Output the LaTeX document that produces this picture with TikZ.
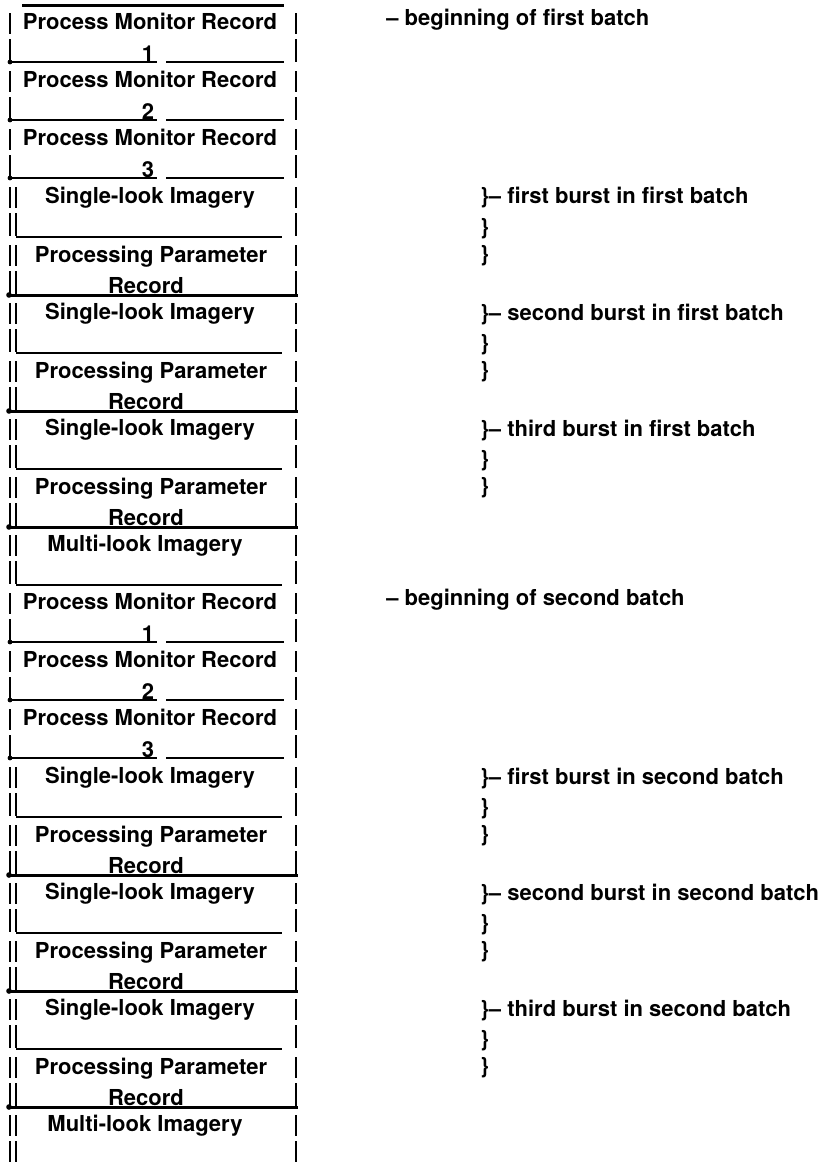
\documentclass[tikz,border=0pt]{standalone}
\usepackage{fontspec}
\setmainfont{TeX Gyre Heros}

\begin{document}
\begin{tikzpicture}[
    x=0.5pt, y=-0.5pt,
    rec/.style={font=\bfseries\fontsize{11}{13}\selectfont, inner sep=0pt},
    note/.style={rec, anchor=west},
    bar/.style={line width=1.1pt},
    rule/.style={line width=1pt},
    thickrule/.style={line width=1.5pt},
  ]

  \useasboundingbox (0,0) rectangle (821,1162);

  % side bars, one pair of dashes per row
  \foreach \k in {0,...,19} {
    \pgfmathtruncatemacro\t{5+58*\k}
    \draw[bar] (10,\t+8) -- (10,\t+29) (10,\t+34) -- (10,\t+57)
               (296,\t+8) -- (296,\t+29) (296,\t+34) -- (296,\t+57);
  }
  % inner bar for the imagery rows
  \foreach \b in {0,1} {
    \foreach \k in {3,...,9} {
      \pgfmathtruncatemacro\t{5+580*\b+58*\k}
      \draw[bar] (16,\t+8) -- (16,\t+29) (16,\t+34) -- (16,\t+57);
    }
  }

  % top of the file
  \draw[thickrule] (22,5) -- (284,5);

  \foreach \b/\bn in {0/first,1/second} {
    \pgfmathtruncatemacro\base{5+580*\b}
    \node[note] (batch\b) at (386,\base+15) {-- beginning of \bn\ batch};

    % process monitor records
    \foreach \n in {1,2,3} {
      \pgfmathtruncatemacro\t{\base+58*(\n-1)}
      \node[rec] (pmr\b\n) at (150,\t+16) {Process Monitor Record};
      \node[rec] (num\b\n) at (148,\t+49) {\n};
      \draw[rule] (12,\t+57) -- (157,\t+57) (166,\t+57) -- (284,\t+57);
      \fill (10,\t+57) circle[radius=1.2pt];
    }

    % bursts: imagery + parameter record
    \foreach \ord [count=\j] in {first,second,third} {
      \pgfmathtruncatemacro\t{\base+58*(1+2*\j)}
      \node[rec] (sli\b\j) at (150,\t+19) {Single-look Imagery};
      \draw[rule] (16,\t+58) -- (282,\t+58);
      \node[rec] (ppr\b\j) at (151,\t+78) {Processing Parameter};
      \node[rec] (rec\b\j) at (146,\t+107) {Record};
      \draw[thickrule] (8,\t+116) -- (298,\t+116);
      \fill (9,\t+116) circle[radius=1.4pt];
      \node[note] (burst\b\j) at (480,\t+19) {\}-- \ord\ burst in \bn\ batch};
      \node[note] (brA\b\j) at (480,\t+50) {\}};
      \node[note] (brB\b\j) at (480,\t+77) {\}};
    }

    % multi-look imagery closes the batch
    \pgfmathtruncatemacro\t{\base+58*9}
    \node[rec] (mli\b) at (145,\t+19) {Multi-look Imagery};
    \ifnum\b=0 \draw[rule] (16,\t+58) -- (282,\t+58); \fi
  }

\end{tikzpicture}
\end{document}
